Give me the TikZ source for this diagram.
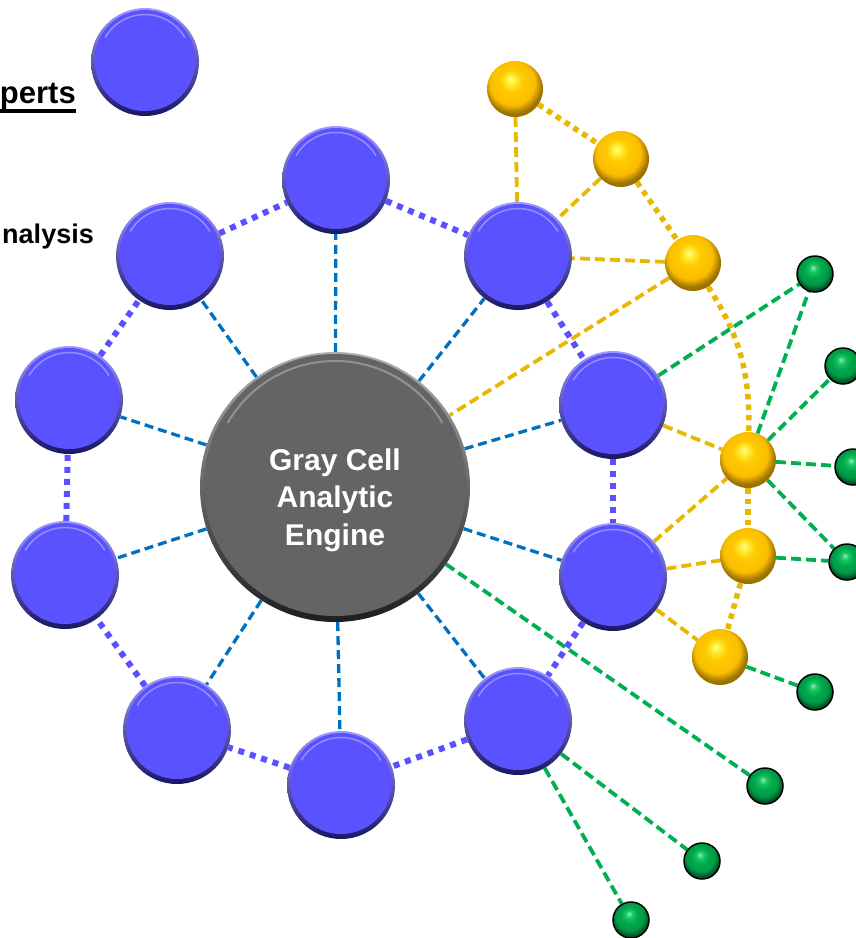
\documentclass[tikz,border=0pt]{standalone}
\usepackage{fontspec}
\setmainfont{Liberation Sans}
\pgfdeclarelayer{bg}
\pgfsetlayers{bg,main}
\definecolor{btnblue}{RGB}{90,82,255}
\definecolor{btnlight}{RGB}{160,155,255}
\definecolor{btndark}{RGB}{25,22,100}
\definecolor{cellgray}{RGB}{100,100,100}
\definecolor{graylight}{RGB}{175,175,175}
\definecolor{graydark}{RGB}{30,30,30}
\definecolor{linkblue}{RGB}{0,112,192}
\definecolor{ringblue}{RGB}{90,80,255}
\definecolor{goldline}{RGB}{232,184,0}
\definecolor{greenline}{RGB}{0,176,80}
\pgfdeclareradialshading{goldsh}{\pgfpoint{-4bp}{9bp}}{%
  rgb(0bp)=(1,1,0.55); rgb(4bp)=(1,0.93,0.2); rgb(10bp)=(1,0.79,0); rgb(20bp)=(0.98,0.74,0); rgb(26bp)=(0.62,0.45,0); rgb(50bp)=(0.5,0.36,0)}
\pgfdeclareradialshading{greensh}{\pgfpoint{-3bp}{9bp}}{%
  rgb(0bp)=(0.55,0.95,0.7); rgb(5bp)=(0.1,0.78,0.4); rgb(12bp)=(0,0.66,0.3); rgb(20bp)=(0,0.6,0.27); rgb(26bp)=(0,0.33,0.15); rgb(50bp)=(0,0.25,0.1)}
\tikzset{
  bluebtn/.style={circle, inner sep=0pt, minimum size=108pt, top color=btnlight, bottom color=btndark,
    path picture={
      \fill[btnblue] ([yshift=1.5pt]path picture bounding box.center) circle[radius=50.5pt];
      \draw[white,opacity=.35,line width=1.5pt] ([yshift=1.5pt]path picture bounding box.center) ++(150:46pt) arc[start angle=150,end angle=30,radius=46pt];
    }},
  graybtn/.style={circle, inner sep=0pt, minimum size=270pt, top color=graylight, bottom color=graydark,
    path picture={
      \fill[cellgray] ([yshift=2pt]path picture bounding box.center) circle[radius=131pt];
      \draw[white,opacity=.3,line width=2pt] ([yshift=2pt]path picture bounding box.center) ++(150:124pt) arc[start angle=150,end angle=30,radius=124pt];
    }},
  goldnode/.style={circle, inner sep=0pt, minimum size=56pt, shading=goldsh},
  greennode/.style={circle, inner sep=0pt, minimum size=36pt, shading=greensh, draw=black, line width=1.5pt},
  bluedash/.style={draw=linkblue, line width=3.3pt, dash pattern=on 9pt off 5pt},
  ringdot/.style={draw=ringblue, line width=6pt, dash pattern=on 6pt off 6pt},
  golddash/.style={draw=goldline, line width=3.8pt, dash pattern=on 10pt off 5pt},
  golddot/.style={draw=goldline, line width=5.5pt, dash pattern=on 5.5pt off 5pt},
  greendash/.style={draw=greenline, line width=3.8pt, dash pattern=on 10pt off 5pt}
}
\begin{document}
\begin{tikzpicture}[x=1pt,y=-1pt]
\useasboundingbox (0,0) rectangle (856,938);
\clip (0,0) rectangle (856,938);
% legend
\node[bluebtn] (legend) at (145,62) {};
\node[font=\bfseries\fontsize{31}{36}\selectfont, anchor=base east, inner sep=0pt] (experts) at (76,103) {perts};
\draw[line width=3.5pt] ([yshift=-8pt]experts.base west) -- ([yshift=-8pt]experts.base east);
\node[font=\bfseries\fontsize{27}{32}\selectfont, anchor=base east, inner sep=0pt] (analysis) at (94,243) {nalysis};
% engine
\node[graybtn] (eng) at (335,487) {};
\node[font=\bfseries\fontsize{30}{37.5}\selectfont, text=white, align=center] (engtxt) at (335,500) {Gray Cell\\Analytic\\Engine};
% ring
\node[bluebtn] (b1) at (336,180) {};
\node[bluebtn] (b2) at (518,256) {};
\node[bluebtn] (b3) at (613,405) {};
\node[bluebtn] (b4) at (613,577) {};
\node[bluebtn] (b5) at (518,721) {};
\node[bluebtn] (b6) at (341,785) {};
\node[bluebtn] (b7) at (177,730) {};
\node[bluebtn] (b8) at (65,575) {};
\node[bluebtn] (b9) at (69,400) {};
\node[bluebtn] (b10) at (170,256) {};
% gold
\node[goldnode] (g1) at (515,89) {};
\node[goldnode] (g2) at (621,159) {};
\node[goldnode] (g3) at (693,263) {};
\node[goldnode] (g4) at (748,460) {};
\node[goldnode] (g5) at (748,556) {};
\node[goldnode] (g6) at (720,657) {};
% green
\node[greennode] (gr1) at (815,274) {};
\node[greennode] (gr2) at (843,366) {};
\node[greennode] (gr3) at (853,467) {};
\node[greennode] (gr4) at (847,562) {};
\node[greennode] (gr5) at (815,692) {};
\node[greennode] (gr6) at (765,786) {};
\node[greennode] (gr7) at (702,861) {};
\node[greennode] (gr8) at (631,920) {};
\begin{pgfonlayer}{bg}
\foreach \i in {1,...,10} \draw[bluedash] (eng) -- (b\i);
\foreach \i/\j in {1/2,2/3,3/4,4/5,5/6,6/7,7/8,8/9,9/10,10/1} \draw[ringdot] (b\i) -- (b\j);
\draw[golddash] (g1) -- (b2);
\draw[golddash] (g2) -- (b2);
\draw[golddash] (g3) -- (b2);
\draw[golddash] (g3) -- (eng);
\draw[golddash] (b3) -- (g4);
\draw[golddash] (b4) -- (g4);
\draw[golddash] (b4) -- (g5);
\draw[golddash] (b4) -- (g6);
\draw[golddot] (g1) -- (g2);
\draw[golddot] (g2) -- (g3);
\draw[golddot] (g3) to[bend left=17] (g4);
\draw[golddot] (g4) -- (g5);
\draw[golddot] (g5) -- (g6);
\draw[greendash] (b3) -- (gr1);
\draw[greendash] (g4) -- (gr1);
\draw[greendash] (g4) -- (gr2);
\draw[greendash] (g4) -- (gr3);
\draw[greendash] (g4) -- (gr4);
\draw[greendash] (g5) -- (gr4);
\draw[greendash] (g6) -- (gr5);
\draw[greendash] (eng) -- (gr6);
\draw[greendash] (b5) -- (gr7);
\draw[greendash] (b5) -- (gr8);
\end{pgfonlayer}
\end{tikzpicture}
\end{document}
